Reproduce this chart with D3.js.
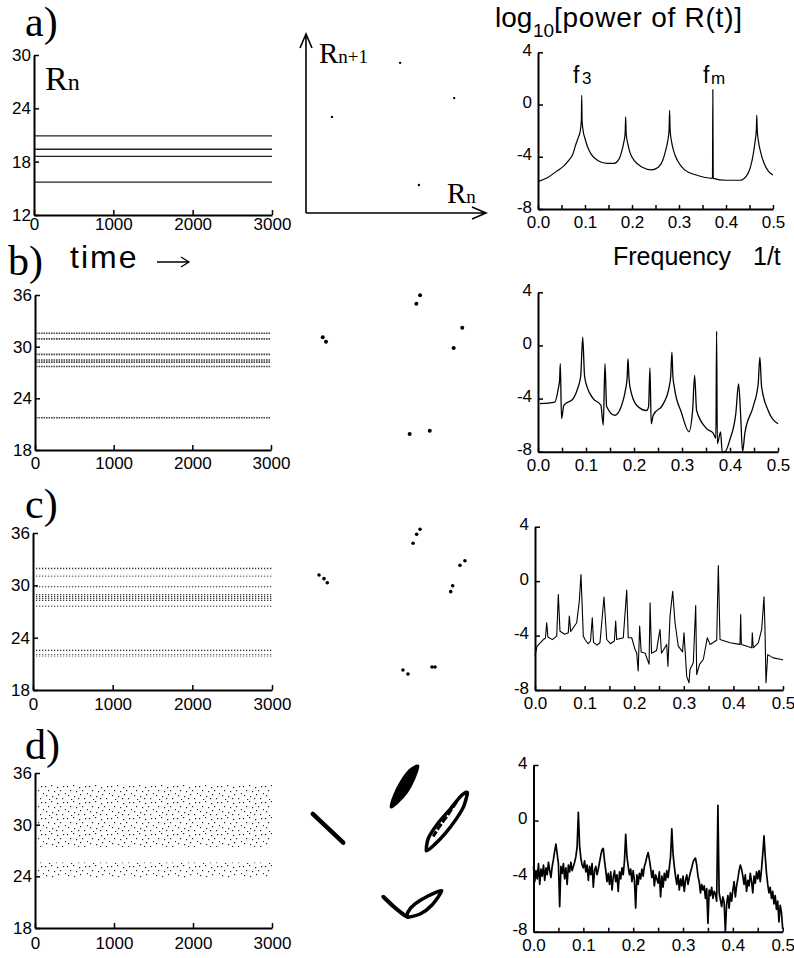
<!doctype html>
<html>
<head>
<meta charset="utf-8">
<script src="https://cdnjs.cloudflare.com/ajax/libs/d3/7.8.5/d3.min.js"></script>
<style>
  body { margin: 0; background: #fff; }
  svg { display: block; font-family: "Liberation Sans", Arial, sans-serif; }
  .axis path.domain { stroke: #000; stroke-width: 2; }
  .axis line { stroke: #000; stroke-width: 1.5; }
  .axis text { font-size: 17px; fill: #000; font-family: "Liberation Sans", Arial, sans-serif; }
  .serif { font-family: "Liberation Serif", "Times New Roman", serif; }
  path.spec { fill: none; stroke: #000; stroke-linejoin: round; }
</style>
</head>
<body>
<svg width="794" height="958"></svg>
<script>
// ---- data ----
var panelLabels = ["a)", "b)", "c)", "d)"];
var timeTicks = [0, 1000, 2000, 3000];
var rTicksA = [12, 18, 24, 30];
var rTicks = [18, 24, 30, 36];
var powerTicks = [-8, -4, 0, 4];
var freqTicks = [0, 0.05, 0.1, 0.15, 0.2, 0.25, 0.3, 0.35, 0.4, 0.45, 0.5];

// R_n levels over time (left column)
var levelsA = [20.9, 19.4, 18.6, 15.7];
var levelsB = [31.55, 30.9, 29.1, 28.45, 28.2, 27.7, 21.75];
var bandsC = [[31.8, 32.1], [31.0, 31.2], [29.7, 29.9], [28.2, 29.0], [27.55, 27.75], [22.45, 22.7], [21.85, 22.1]];
var bandsD = [[27.4, 34.7], [23.8, 25.6]];

// return maps (R_n, R_n+1)
var mapA = [[18.6, 20.9], [20.9, 19.4], [15.7, 18.6], [19.4, 15.7]];
var mapB = [[28.53, 31.51], [28.27, 30.91], [31.49, 29.22], [30.89, 27.78], [21.70, 28.54],
            [21.93, 28.23], [27.80, 21.70], [29.21, 21.94]];
var mapC = [[28.53, 31.79], [28.29, 31.43], [28.04, 30.80], [31.68, 29.57], [31.33, 29.24],
            [21.44, 28.56], [21.79, 28.30], [22.02, 28.01], [30.82, 27.80], [30.68, 27.38],
            [27.33, 21.84], [27.68, 21.56], [29.37, 22.06], [29.58, 22.06]];
var mapDLine = [[21.0, 28.63], [23.14, 26.6]];
var mapDSpindle = [[28.39, 32.03], [28.10, 31.10], [27.61, 30.18], [26.91, 29.40], [26.49, 29.12],
                   [26.70, 29.90], [27.19, 30.89], [27.82, 31.74]];
var mapDLoop = [[31.85, 30.15], [31.60, 29.19], [31.05, 28.25], [30.33, 27.30], [29.58, 26.50],
                [28.98, 26.02], [29.12, 26.93], [29.80, 27.99], [30.65, 28.98], [31.40, 29.90]];
var mapDLoopInner = [[31.10, 29.50], [30.50, 28.60], [29.90, 27.75], [29.45, 27.05]];
var mapDArm = [[25.95, 22.78], [26.63, 22.13], [27.33, 21.56], [27.68, 21.35]];
var mapDLeaf = [[27.68, 21.35], [28.53, 21.56], [29.37, 22.20], [30.05, 23.21], [29.09, 22.83],
                [28.18, 22.27], [27.68, 21.70]];

// log10 power spectra (frequency, value)
var specA = [[0, -5.9], [0.02, -5.6], [0.04, -5.1], [0.055, -4.7], [0.065, -4.3], [0.074, -3.8],
  [0.081, -3.0], [0.086, -2.5], [0.09, -2.0], [0.0922, -1.2], [0.093, 0.7], [0.0938, -1.2],
  [0.096, -2.0], [0.1, -2.6], [0.105, -3.2], [0.113, -3.8], [0.128, -4.3], [0.147, -4.5],
  [0.162, -4.5], [0.172, -4.2], [0.178, -3.6], [0.182, -3.0], [0.1854, -2.2], [0.1865, -0.95],
  [0.1876, -2.2], [0.191, -3.0], [0.196, -3.7], [0.205, -4.3], [0.222, -4.8], [0.242, -5.0],
  [0.256, -4.8], [0.265, -4.3], [0.271, -3.6], [0.276, -2.8], [0.2788, -2.0], [0.28, -0.45],
  [0.2812, -2.0], [0.284, -2.8], [0.289, -3.6], [0.297, -4.3], [0.312, -5.0], [0.337, -5.4],
  [0.3712, -5.65], [0.372, 1.15], [0.3728, -5.65], [0.4, -5.8], [0.43, -5.8], [0.443, -5.5],
  [0.452, -4.8], [0.458, -3.8], [0.462, -2.8], [0.4645, -2.0], [0.4655, -0.8], [0.4665, -2.0],
  [0.469, -2.8], [0.474, -3.7], [0.481, -4.5], [0.49, -5.1], [0.5, -5.4]];

var specB = [[0.004, -4.38], [0.035, -4.26], [0.042, -3.3], [0.045, -2.6], [0.0465, -1.38], [0.049, -5.5],
  [0.054, -4.5], [0.0735, -4.0], [0.083, -3.2], [0.089, -2.3], [0.0931, 0.63], [0.097, -2.3],
  [0.103, -3.2], [0.115, -4.0], [0.131, -4.5], [0.136, -6.0], [0.1395, -1.38], [0.143, -4.6],
  [0.16, -5.26], [0.1777, -4.1], [0.183, -3.2], [0.1858, -2.4], [0.1874, -1.0], [0.1895, -2.4],
  [0.1915, -3.1], [0.2055, -4.5], [0.2263, -4.9], [0.2304, -4.6], [0.2332, -1.7], [0.2359, -5.9],
  [0.24, -5.26], [0.261, -4.4], [0.2734, -3.1], [0.2765, -2.3], [0.279, -0.5], [0.281, -2.3],
  [0.2838, -3.1], [0.2992, -5.1], [0.3144, -6.5], [0.3221, -4.9], [0.3263, -2.26], [0.3304, -4.9],
  [0.3512, -6.26], [0.365, -6.6], [0.3706, -7.0], [0.3721, 1.07], [0.3736, -7.4], [0.3804, -6.5],
  [0.3837, -8], [0.3893, -8], [0.3997, -7.1], [0.4122, -5.1], [0.4179, -2.9], [0.422, -5.1],
  [0.4262, -8], [0.431, -6.6], [0.4483, -4.6], [0.4587, -2.9], [0.4622, -0.88], [0.4658, -3.1],
  [0.4795, -4.9], [0.5, -5.9]];

var specC = [[0, -5.5], [0.004, -4.8], [0.0167, -4.29], [0.021, -4.2], [0.0236, -3.06], [0.026, -4.1],
  [0.035, -4.3], [0.0438, -4.04], [0.047, -0.98], [0.0504, -3.68], [0.06, -3.9], [0.0671, -3.8],
  [0.0692, -2.57], [0.072, -3.7], [0.0841, -3.06], [0.0893, -1.47], [0.0927, 0.49], [0.0974, -4.04],
  [0.1008, -4.29], [0.107, -4.6], [0.112, -4.4], [0.1155, -2.69], [0.118, -4.5], [0.125, -4.7],
  [0.131, -4.53], [0.1391, -1.17], [0.1446, -4.29], [0.152, -4.6], [0.16, -4.4], [0.1627, -2.94],
  [0.1647, -4.29], [0.178, -4.16], [0.1849, -0.66], [0.188, -4.16], [0.195, -4.16], [0.2016, -5.02],
  [0.205, -5.26], [0.208, -6.6], [0.211, -3.3], [0.214, -5.2], [0.222, -5.3], [0.23, -6.1],
  [0.232, -1.6], [0.235, -5.3], [0.245, -5.1], [0.252, -3.55], [0.255, -5.3], [0.2655, -4.65],
  [0.268, -6.25], [0.2722, -2.57], [0.2776, -0.74], [0.2823, -3.06], [0.2889, -4.78], [0.2975, -5.2],
  [0.3004, -3.8], [0.3035, -5.6], [0.3058, -7.0], [0.3105, -7.47], [0.3125, -6.5], [0.3192, -6.0],
  [0.324, -1.79], [0.326, -6.86], [0.332, -6.1], [0.3393, -5.76], [0.3474, -4.16], [0.3528, -4.65],
  [0.3663, -4.34], [0.3696, 1.15], [0.373, -4.29], [0.3931, -4.53], [0.4133, -4.65], [0.4147, -2.45],
  [0.416, -4.65], [0.4369, -4.9], [0.4381, -3.8], [0.44, -4.9], [0.4502, -4.53], [0.457, -3.55],
  [0.4617, -1.15], [0.4637, -3.55], [0.4657, -7.47], [0.4692, -5.4], [0.4804, -5.64], [0.4974, -5.76],
  [0.5, -5.8]];

// panel d: noisy spectrum sampled every 0.0025 in frequency
var specDStep = 0.0025;
var specD = [
  -3.3, -4.4, -3.6, -4.2, -3.1, -4.6, -3.5, -4.0, -3.2, -4.3, -3.4, -3.9, -3.0, -3.6, -4.1, -3.3, -2.8, -2.2, -1.7, -2.4,
  -3.1, -6.2, -3.3, -3.8, -3.1, -4.2, -3.4, -4.6, -3.2, -3.7, -3.0, -3.6, -3.3, -3.0, -2.6, -1.9, 0.6, -1.8, -2.7, -3.2,
  -3.4, -2.9, -3.7, -3.2, -4.3, -3.3, -3.9, -3.1, -4.8, -3.6, -3.3, -3.9, -3.5, -3.0, -2.5, -2.1, -2.0, -2.9, -3.6, -4.4,
  -3.8, -4.6, -3.7, -5.0, -4.1, -3.6, -4.4, -3.9, -5.1, -3.7, -4.2, -3.4, -3.9, -2.9, -1.0, -2.6, -3.3, -3.9, -3.5, -4.4,
  -3.6, -4.3, -6.3, -3.9, -4.6, -3.8, -4.2, -3.5, -4.0, -3.3, -3.0, -2.6, -2.3, -2.8, -3.4, -4.1, -3.6, -4.7, -3.9, -4.2,
  -4.5, -3.7, -5.5, -4.0, -4.8, -3.8, -4.3, -3.6, -4.1, -3.4, -2.6, -0.6, -2.4, -3.3, -4.0, -4.6, -3.9, -5.0, -4.2, -4.7,
  -4.0, -5.1, -4.3, -3.9, -4.6, -4.1, -3.7, -3.4, -3.0, -2.8, -2.7, -3.2, -4.0, -4.4, -5.2, -4.6, -5.0, -4.7, -5.6, -4.9,
  -7.4, -5.0, -5.4, -4.8, -5.6, -5.1, -5.3, -5.8, 1.1, -5.2, -5.7, -6.2, -5.5, -5.9, -8.0, -6.0, -5.4, -6.3, -5.2, -5.8,
  -5.0, -4.4, -5.5, -4.7, -4.2, -3.6, -3.2, -3.5, -4.0, -4.6, -3.9, -5.1, -4.3, -4.7, -3.8, -4.4, -5.2, -4.0, -4.5, -3.7,
  -4.2, -3.6, -4.4, -3.5, -2.4, -1.1, -2.6, -3.8, -4.6, -5.2, -4.8, -5.6, -5.1, -6.0, -5.4, -6.4, -5.8, -7.3, -6.1, -6.6,
  -7.8];

// ---- drawing ----
var svg = d3.select("svg");
var defs = svg.append("defs");

var patC = defs.append("pattern").attr("id", "dotsC").attr("patternUnits", "userSpaceOnUse")
  .attr("width", 3).attr("height", 2);
patC.append("rect").attr("width", 1.3).attr("height", 1.3).attr("fill", "#333");

var patD = defs.append("pattern").attr("id", "dotsD").attr("patternUnits", "userSpaceOnUse")
  .attr("width", 22).attr("height", 16);
[[1, 2], [7, 1], [13, 3], [19, 2], [4, 6], [10, 7], [16, 6], [21, 9], [2, 11], [8, 12], [14, 10],
 [18, 14], [5, 15], [12, 14]].forEach(function(p) {
  patD.append("rect").attr("x", p[0]).attr("y", p[1]).attr("width", 1.2).attr("height", 1.2).attr("fill", "#222");
});

// pixel boxes of every panel
var layout = [
  { lab: [25, 36],  ts: { x: [34, 272], y: [215, 55], pad: 3 },  sp: { x: [538, 773], y: [209, 52.3], pad: 7 } },
  { lab: [8, 275],  ts: { x: [35, 271], y: [450, 295], pad: 7 }, sp: { x: [538, 778], y: [451.7, 292.3], pad: 7 } },
  { lab: [25, 518], ts: { x: [33, 272], y: [690, 533], pad: 8 }, sp: { x: [535, 783], y: [690, 526.7], pad: 7 } },
  { lab: [25, 759], ts: { x: [35, 272], y: [928, 773], pad: 9 }, sp: { x: [533.5, 782.7], y: [931.7, 765], pad: 7 } }
];
var mapBase = [null, 486.4, 724.4, 964.4];

panelLabels.forEach(function(t, i) {
  svg.append("text").attr("class", "serif").attr("x", layout[i].lab[0]).attr("y", layout[i].lab[1])
    .style("font-size", "42px").text(t);
});

function timeAxes(box, dom, ticks) {
  var x = d3.scaleLinear().domain([0, 3000]).range(box.x);
  var y = d3.scaleLinear().domain(dom).range(box.y);
  var g = svg.append("g");
  g.append("g").attr("class", "axis").attr("transform", "translate(0," + box.y[0] + ")")
    .call(d3.axisBottom(x).tickValues(timeTicks).tickFormat(d3.format("d"))
      .tickSizeInner(-5).tickSizeOuter(0).tickPadding(box.pad));
  g.append("g").attr("class", "axis").attr("transform", "translate(" + box.x[0] + ",0)")
    .call(d3.axisLeft(y).tickValues(ticks).tickSizeInner(-5).tickSizeOuter(0).tickPadding(3));
  return { x: x, y: y, g: g };
}

// a) left
var tA = timeAxes(layout[0].ts, [12, 30], rTicksA);
tA.g.selectAll("line.lvl").data(levelsA).join("line").attr("class", "lvl")
  .attr("x1", tA.x(0) + 1).attr("x2", tA.x(3000)).attr("y1", tA.y).attr("y2", tA.y)
  .attr("stroke", "#222").attr("stroke-width", 1.4);

// b) left
var tB = timeAxes(layout[1].ts, [18, 36], rTicks);
tB.g.selectAll("line.lvl").data(levelsB).join("line").attr("class", "lvl")
  .attr("x1", tB.x(0) + 1).attr("x2", tB.x(3000)).attr("y1", tB.y).attr("y2", tB.y)
  .attr("stroke", "#444").attr("stroke-width", 1.6).attr("stroke-dasharray", "1.6,0.9");

// c) left
var tC = timeAxes(layout[2].ts, [18, 36], rTicks);
tC.g.selectAll("rect.band").data(bandsC).join("rect").attr("class", "band")
  .attr("x", tC.x(0) + 2).attr("width", tC.x(3000) - tC.x(0) - 2)
  .attr("y", function(d) { return tC.y(d[1]); })
  .attr("height", function(d) { return Math.max(1.6, tC.y(d[0]) - tC.y(d[1])); })
  .attr("fill", "url(#dotsC)");

// d) left
var tD = timeAxes(layout[3].ts, [18, 36], rTicks);
tD.g.selectAll("rect.band").data(bandsD).join("rect").attr("class", "band")
  .attr("x", tD.x(0) + 2).attr("width", tD.x(3000) - tD.x(0) - 2)
  .attr("y", function(d) { return tD.y(d[1]); })
  .attr("height", function(d) { return tD.y(d[0]) - tD.y(d[1]); })
  .attr("fill", "url(#dotsD)");

// R_n label and time arrow
var rn = svg.append("text").attr("class", "serif").attr("x", 45).attr("y", 90);
rn.append("tspan").style("font-size", "34px").text("R");
rn.append("tspan").style("font-size", "24px").text("n");
svg.append("text").attr("x", 70).attr("y", 268).style("font-size", "32px").style("letter-spacing", "2px").text("time");
svg.append("path").attr("d", "M157,262H189M181,257L189,262L181,267")
  .attr("fill", "none").attr("stroke", "#000").attr("stroke-width", 1.3);

// return maps
var mxA = d3.scaleLinear().domain([14, 22]).range([292, 480]);
var myA = d3.scaleLinear().domain([14, 22]).range([225, 37]);
svg.append("path").attr("d", "M306,213V34M300,48L306,34L312,48M306,213H486M472,207L486,213L472,219")
  .attr("fill", "none").attr("stroke", "#000").attr("stroke-width", 1.6);
var r1 = svg.append("text").attr("class", "serif").attr("x", 319).attr("y", 63);
r1.append("tspan").style("font-size", "29px").text("R");
r1.append("tspan").style("font-size", "19px").text("n+1");
var r0 = svg.append("text").attr("class", "serif").attr("x", 447).attr("y", 203);
r0.append("tspan").style("font-size", "29px").text("R");
r0.append("tspan").style("font-size", "19px").text("n");
svg.selectAll("circle.ma").data(mapA).join("circle").attr("class", "ma")
  .attr("cx", function(d) { return mxA(d[0]); }).attr("cy", function(d) { return myA(d[1]); })
  .attr("r", 1.2).attr("fill", "#000");

function mapScales(base) {
  return {
    x: d3.scaleLinear().domain([18, 36]).range([270, 526.5]),
    y: d3.scaleLinear().domain([18, 36]).range([base, base - 254.7])
  };
}
var mB = mapScales(mapBase[1]);
svg.selectAll("circle.mb").data(mapB).join("circle").attr("class", "mb")
  .attr("cx", function(d) { return mB.x(d[0]); }).attr("cy", function(d) { return mB.y(d[1]); })
  .attr("r", 2).attr("fill", "#000");
var mC = mapScales(mapBase[2]);
svg.selectAll("circle.mc").data(mapC).join("circle").attr("class", "mc")
  .attr("cx", function(d) { return mC.x(d[0]); }).attr("cy", function(d) { return mC.y(d[1]); })
  .attr("r", 1.8).attr("fill", "#000");
var mD = mapScales(mapBase[3]);
var mline = d3.line().x(function(d) { return mD.x(d[0]); }).y(function(d) { return mD.y(d[1]); });
var mloop = d3.line().curve(d3.curveCardinalClosed.tension(0.3))
  .x(function(d) { return mD.x(d[0]); }).y(function(d) { return mD.y(d[1]); });
var mcurve = d3.line().curve(d3.curveCardinal.tension(0.3))
  .x(function(d) { return mD.x(d[0]); }).y(function(d) { return mD.y(d[1]); });
svg.append("path").attr("d", mline(mapDLine)).attr("stroke", "#000").attr("stroke-width", 4.5)
  .attr("stroke-linecap", "round");
svg.append("path").attr("d", mloop(mapDSpindle)).attr("fill", "#000").attr("stroke", "#000").attr("stroke-width", 2.5);
svg.append("path").attr("d", mloop(mapDLoop)).attr("fill", "none").attr("stroke", "#000").attr("stroke-width", 3.5);
svg.append("path").attr("d", mcurve(mapDLoopInner)).attr("fill", "none").attr("stroke", "#000").attr("stroke-width", 3)
  .attr("stroke-dasharray", "7,2");
svg.append("path").attr("d", mcurve(mapDArm)).attr("fill", "none").attr("stroke", "#000").attr("stroke-width", 4)
  .attr("stroke-linecap", "round");
svg.append("path").attr("d", mloop(mapDLeaf)).attr("fill", "none").attr("stroke", "#000").attr("stroke-width", 3.5);

// spectra
function spectrum(box, data, sw, curve) {
  var x = d3.scaleLinear().domain([0, 0.5]).range(box.x);
  var y = d3.scaleLinear().domain([-8, 4]).range(box.y);
  var g = svg.append("g");
  g.append("g").attr("class", "axis").attr("transform", "translate(0," + box.y[0] + ")")
    .call(d3.axisBottom(x).tickValues(freqTicks).tickSizeInner(-4).tickSizeOuter(0).tickPadding(box.pad)
      .tickFormat(function(d) { return Math.abs(d * 10 - Math.round(d * 10)) < 1e-6 ? d3.format(".1f")(d) : ""; }));
  var ya = g.append("g").attr("class", "axis").attr("transform", "translate(" + box.x[0] + ",0)")
    .call(d3.axisLeft(y).tickValues(powerTicks).tickSizeInner(-5).tickSizeOuter(0).tickPadding(6)
      .tickFormat(function(d) { return String(d); }));
  ya.selectAll("text").attr("dy", "0.18em");
  g.append("path").attr("class", "spec").attr("stroke-width", sw)
    .attr("d", d3.line().curve(curve).x(function(d) { return x(d[0]); }).y(function(d) { return y(d[1]); })(data));
  return { x: x, y: y };
}
spectrum(layout[0].sp, specA, 1.2, d3.curveMonotoneX);
spectrum(layout[1].sp, specB, 1.3, d3.curveMonotoneX);
spectrum(layout[2].sp, specC, 1.1, d3.curveLinear);
spectrum(layout[3].sp, specD.map(function(v, i) { return [i * specDStep, v]; }), 1.7, d3.curveLinear);

// titles of right column
svg.append("text").attr("x", 495).attr("y", 27).style("font-size", "28px").text("log");
svg.append("text").attr("x", 533).attr("y", 37).style("font-size", "19px").text("10");
svg.append("text").attr("x", 554).attr("y", 27).style("font-size", "28px")
  .attr("textLength", 188).attr("lengthAdjust", "spacing").text("[power of R(t)]");
svg.append("text").attr("x", 613).attr("y", 265).style("font-size", "25px").text("Frequency");
svg.append("text").attr("x", 753).attr("y", 265).style("font-size", "25px").text("1/t");
svg.append("text").attr("x", 573).attr("y", 83).style("font-size", "23px").text("f");
svg.append("text").attr("x", 582).attr("y", 84).style("font-size", "17px").text("3");
svg.append("text").attr("x", 703).attr("y", 83).style("font-size", "23px").text("f");
svg.append("text").attr("x", 711).attr("y", 84).style("font-size", "17px").text("m");
</script>
</body>
</html>
